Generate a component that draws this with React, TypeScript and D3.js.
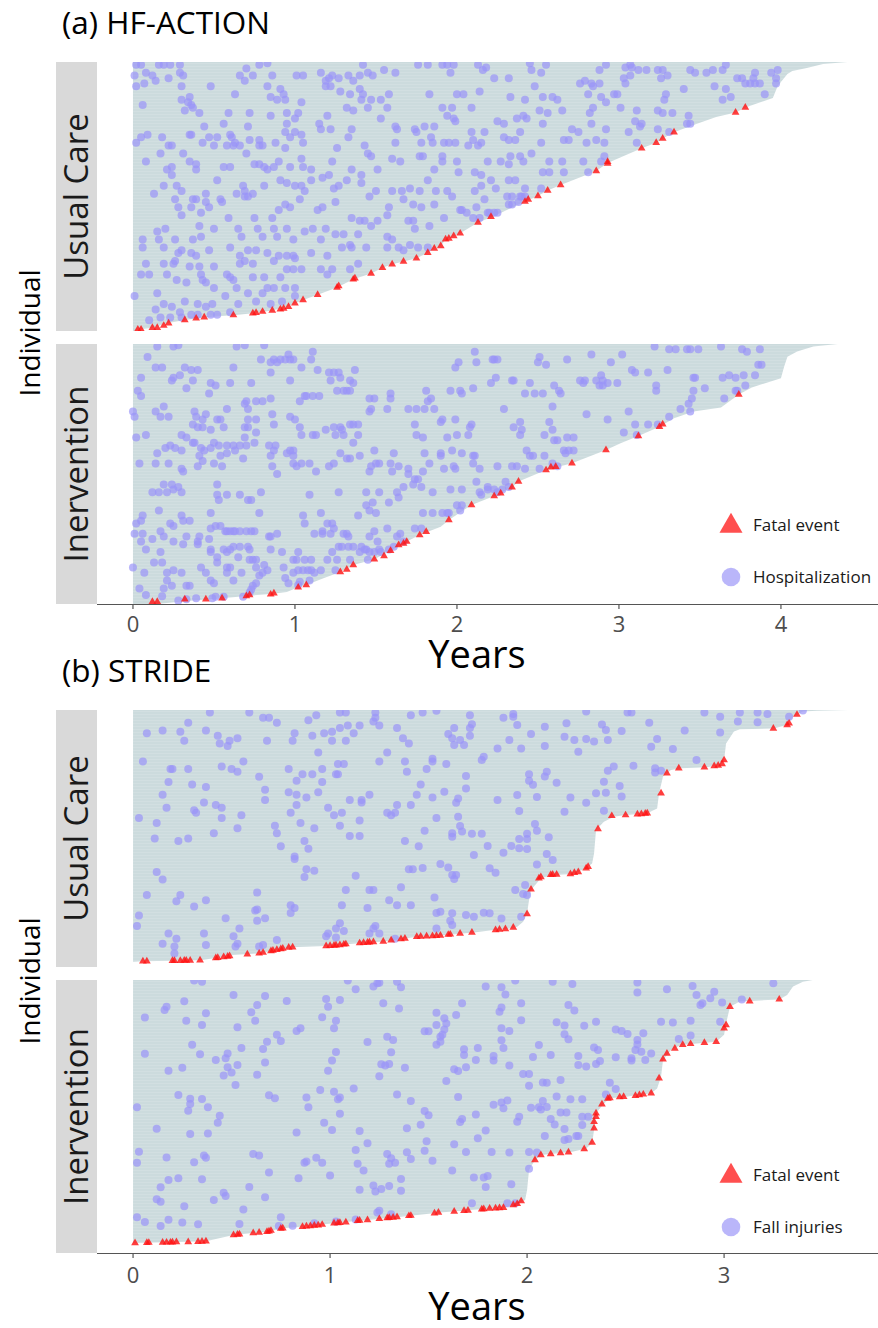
import React from "react";
import * as d3 from "d3";

type Pt = [number, number]; // [years, individual rank in % (0 = shortest follow-up)]

// ---------- HF-ACTION: usual care ----------
const hfUsualFollowUp: Pt[] = [[0.02,0],[0.03,0.6],[0.12,1.2],[0.21,2.9],[0.32,4.1],[0.40,4.7],[0.44,5.1],[0.62,5.9],[0.74,6.6],[0.80,7.2],[0.86,7.6],[0.95,9],[1.00,10.3],[1.05,11.5],[1.14,13.5],[1.26,16.2],[1.36,19.2],[1.47,21.4],[1.54,23.5],[1.60,24.8],[1.67,25.8],[1.75,27],[1.82,29.1],[1.86,30.7],[1.90,31.6],[1.93,34.1],[2.02,36.3],[2.13,40.3],[2.22,42.5],[2.42,48.1],[2.45,48.9],[2.50,50.2],[2.56,52.2],[2.64,54.3],[2.86,59.5],[2.93,62.5],[3.14,67.9],[3.23,70],[3.27,71.6],[3.34,73.9],[3.46,76.6],[3.60,79.6],[3.72,81.2],[3.78,83.1],[3.95,86.6],[3.98,91.1],[4.04,95.5],[4.07,96.7],[4.16,97.8],[4.26,99.3],[4.41,100]];
const hfUsualFatal: Pt[] = [[0.03,0.6],[0.05,0.6],[0.12,1.2],[0.15,1.2],[0.19,2],[0.22,2.9],[0.32,4.1],[0.39,4.7],[0.44,5.1],[0.62,5.9],[0.74,6.6],[0.76,6.8],[0.80,7.2],[0.86,7.6],[0.91,8.1],[0.93,8.4],[0.96,9],[1.00,10.3],[1.05,11.5],[1.14,13.5],[1.26,16.2],[1.27,16.7],[1.36,19.2],[1.37,19.6],[1.47,21.4],[1.54,23.5],[1.60,24.8],[1.67,25.8],[1.75,27],[1.82,29.1],[1.86,30.7],[1.90,31.6],[1.93,34.1],[1.95,34.4],[1.98,35.3],[2.02,36.3],[2.13,40.3],[2.21,42.5],[2.42,48.1],[2.44,48.9],[2.50,50.2],[2.56,52.2],[2.64,54.3],[2.86,59.5],[2.93,62.3],[2.93,62.9],[3.14,67.9],[3.23,70],[3.27,71.6],[3.34,73.9],[3.72,81.2],[3.78,83.1]];
const hfUsualHosp: Pt[] = [
[0.02,99],[0.05,99],[0.16,99],[0.19,99],[0.23,99],[0.29,99],[0.70,97.6],[0.83,99.5],[0.78,99],[1.42,99],[1.76,99],[1.82,99],
[0.01,95],[0.08,96],[0.12,95],[0.14,93],[0.22,94],[0.29,96],[0.31,95],[0.66,95],[0.69,93],[0.74,95],[0.86,95],[1.01,95],[1.05,95],[1.16,96],[1.21,94],[1.23,95],[1.19,93],[1.27,94],[1.33,95],[1.36,93],[1.40,95],[1.45,96],[1.48,95],[1.55,97],[1.62,96],
[0.02,91],[0.07,92],[0.30,91],[0.48,91],[0.83,91],[0.91,90],[1.19,91],[1.22,91],[1.28,89],[1.34,88],[1.42,88],[1.40,90],
[0.30,86],[0.35,87],[0.34,85],[0.36,84],[0.63,88],[0.85,87],[0.89,86],[0.93,88],[0.94,86],[1.04,85],[1.41,86],[1.47,86],[1.53,86],[1.58,88],[1.45,83],[1.36,82],[1.57,83],[1.83,88],
[0.06,84],[0.32,82],[0.37,83],[0.41,81],[0.59,81],[0.72,81],[0.85,80],[0.95,81],[1.00,79],[1.02,81],[1.20,80],[1.32,83],
[0.44,76],[0.56,77],[0.71,76],[0.95,77],[1.15,77],[1.16,75],[1.22,75],[1.35,75],[1.53,79],[1.62,76],[1.63,75],[1.74,75],[1.80,76],[1.75,74],[1.86,76],
[0.02,70],[0.09,73],[0.05,72],[0.18,72],[0.35,73],[0.36,73],[0.43,70],[0.47,72],[0.52,72],[0.60,73],[0.61,72],[0.72,71],[0.78,71],[0.80,69],[0.88,70],[0.94,74],[0.97,72],[1.00,74],[1.04,73],[1.05,70],[1.33,72],[1.62,70],[1.78,70],[1.84,72],[1.85,70],
[0.17,66],[0.22,69],[0.24,69],[0.31,66],[0.50,69],[0.58,69],[0.62,69],[0.63,70],[0.66,69],[0.70,66],[0.78,69],[0.94,68],[1.26,68],[1.43,69],[1.45,66],[1.47,65],[1.77,65],[1.79,65],
[0.08,63],[0.21,60],[0.24,61],[0.35,63],[0.39,62],[0.39,60],[0.56,61],[0.60,61],[0.75,62],[0.78,62],[0.81,61],[0.83,60],[0.87,61],[0.90,63],[0.97,61],[1.04,64],[1.05,61],[1.10,60],[1.23,63],[1.35,60],[1.41,58],[1.51,60],[1.60,64],[1.65,63],[1.86,60],
[0.13,51],[0.19,54],[0.24,58],[0.27,54],[0.30,52],[0.37,49],[0.39,49],[0.45,51],[0.52,56],[0.54,49],[0.64,51],[0.68,54],[0.69,52],[0.71,50],[0.74,51],[0.81,54],[0.91,56],[0.95,55],[1.00,54],[1.04,54],[1.06,52],[1.10,56],[1.17,57],[1.21,58],[1.24,53],[1.27,54],[1.32,56],[1.41,55],[1.46,50],[1.50,52],[1.60,52],[1.66,52],[1.67,49],[1.71,53],[1.77,52],[1.82,56],[1.87,52],
[0.26,49],[0.28,46],[0.30,43],[0.36,46],[0.42,44],[0.45,48],[0.47,46],[0.55,48],[0.59,42],[0.69,50],[0.75,42],[0.86,42],[0.90,45],[0.94,47],[0.97,46],[1.03,49],[1.14,45],[1.17,46],[1.25,48],[1.35,42],[1.40,41],[1.43,41],[1.51,41],[1.57,43],[1.58,46],[1.73,47],[1.78,46],[1.86,47],[1.73,41],
[0.06,34],[0.15,37],[0.16,34],[0.20,38],[0.26,34],[0.37,34],[0.41,39],[0.42,35],[0.50,38],[0.65,38],[0.67,35],[0.77,38],[0.80,35],[0.87,38],[0.89,35],[0.95,38],[0.99,34],[1.06,37],[1.11,38],[1.16,34],[1.19,38],[1.25,36],[1.30,36],[1.34,32],[1.39,36],[1.47,39],[1.57,35],[1.60,34],[1.70,41],[1.74,38],[1.83,39],
[0.06,31],[0.19,31],[0.26,26],[0.28,29],[0.30,30],[0.36,29],[0.39,28],[0.47,30],[0.60,31],[0.66,28],[0.71,30],[0.76,30],[0.83,29],[0.90,28],[0.95,28],[0.99,28],[1.00,27],[1.10,29],[1.20,28],[1.29,31],[1.35,31],[1.44,31],[1.57,31],[1.64,31],[1.67,30],[1.71,32],[1.76,31],[1.82,31],
[0.08,25],[0.19,25],[0.25,25],[0.35,24],[0.41,24],[0.42,21],[0.50,24],[0.58,21],[0.66,25],[0.69,26],[0.74,25],[0.87,26],[0.95,23],[0.99,23],[1.04,23],[1.16,23],[1.23,23],[1.34,23],[1.39,25],[0.05,21],[0.10,21],[0.21,21],
[0.27,19],[0.33,18],[0.43,19],[0.45,18],[0.50,16],[0.60,20],[0.62,19],[0.64,16],[0.74,20],[0.81,20],[0.83,16],[0.87,16],[0.91,20],[0.94,16],[1.00,16],[1.20,21],
[0.01,13],[0.15,14],[0.19,10],[0.24,9],[0.29,7],[0.32,11],[0.40,10],[0.45,9],[0.49,10],[0.14,8],[0.57,13],[0.65,10],[0.71,14],[0.76,11],[0.80,14],[0.85,10],[0.92,11],[1.00,13],[0.10,4],[0.17,5],[0.23,5],[0.30,5],[0.36,6],[0.40,6],[0.48,6],[0.52,6],[0.60,7],
[1.91,99],[1.94,99],[1.98,99],[2.13,99],[2.16,97],[2.18,98],[2.45,99.5],[2.46,97],[2.52,96],[2.55,99],[2.92,99],[2.88,97],[3.04,98],[3.07,99],[3.08,98],[3.12,97],[3.17,97],[3.24,97],[3.27,97],[3.44,97],[3.47,96],[3.54,96],[3.58,97],[3.64,97],[3.66,99],[3.84,96],[3.94,96],[3.98,97],
[1.96,96],[2.23,94],[2.32,94],[2.76,92],[2.79,93],[2.83,92],[2.84,91],[2.88,92],[3.03,94],[3.07,95],[3.04,92],[3.26,94],[3.30,95],[3.40,90],[3.59,91],[3.66,90],[3.73,94],[3.76,94],[3.78,92],[3.81,92],[3.84,92],[3.87,92],[3.83,94],[3.97,94],[3.97,92],[3.90,88],[3.64,86],[3.69,87],
[2.00,88],[2.04,88],[2.14,89],[2.33,87],[2.42,86],[2.48,91],[2.53,87],[2.59,87],[2.62,86],[2.81,88],[2.89,87],[2.97,88],[2.99,88],[2.92,85],[3.28,86],[3.29,88],
[1.91,83],[1.97,83],[2.09,83],[1.94,80],[1.98,79],[1.99,78],[2.25,78],[2.29,77],[2.37,79],[2.41,80],[2.43,79],[2.51,82],[2.53,77],[2.56,81],[2.65,82],[2.84,83],[2.82,81],[2.83,77],[3.01,83],[3.11,82],[3.10,78],[3.14,77],[3.13,76],[3.24,82],[3.27,81],[3.33,81],[3.43,80],[3.42,77],[3.44,77],
[2.09,74],[2.17,74],[2.29,72],[2.32,71],[2.36,71],[2.39,74],[2.52,70],[2.66,71],[2.69,71],[2.71,75],[2.75,74],[2.80,70],[2.86,71],[2.91,70],[2.92,75],[3.06,74],[3.11,70],[3.24,75],[3.31,74],
[1.92,70],[1.95,70],[1.99,70],[2.07,69],[2.10,71],[2.13,69],[2.15,70],[1.91,65],[1.91,63],[2.00,63],[2.19,63],[2.27,63],[2.33,65],[2.32,62],[2.39,65],[2.41,63],[2.46,66],[2.57,63],[2.65,63],[2.78,63],[2.91,65],[2.89,63],
[2.01,59],[2.11,59],[2.15,58],[2.21,56],[2.24,53],[2.32,56],[2.36,56],[2.42,53],[2.39,50],[2.52,53],[2.53,59],[2.57,59],[2.66,59],[2.81,59],
[1.94,52],[1.97,50],[2.11,52],[2.15,54],[2.17,49],[2.12,46],[2.03,45],[2.02,45],[2.06,44],[2.19,44],[2.20,44],[2.23,44],[2.25,44],[2.32,47],[2.31,50],[2.34,50],[2.34,47],[2.38,48],[2.40,50],[2.42,50],[1.92,42],[2.10,42],[2.14,42]];

// ---------- HF-ACTION: intervention ----------
const hfInterFollowUp: Pt[] = [[0.15,0],[0.30,1],[0.55,2.2],[0.70,3.1],[0.85,3.8],[0.95,4.6],[1.02,6.4],[1.07,7.3],[1.18,10],[1.28,12.3],[1.36,15],[1.49,17.2],[1.59,20.5],[1.69,24],[1.77,26.5],[1.82,27.8],[1.90,29.7],[1.95,32.3],[2.09,38.1],[2.23,41.5],[2.34,44.9],[2.38,47.1],[2.55,51.5],[2.71,54.1],[2.92,59.2],[3.01,61.8],[3.12,64.6],[3.25,68.2],[3.34,71.4],[3.46,74],[3.63,75.6],[3.74,80.6],[3.82,83.3],[4.0,86.8],[4.02,91.3],[4.04,95.1],[4.10,97.1],[4.20,99],[4.35,100]];
const hfInterFatal: Pt[] = [[0.12,0.9],[0.15,0.9],[0.32,1.8],[0.45,1.8],[0.55,2.2],[0.70,3.1],[0.72,3.5],[0.85,3.7],[0.87,4.1],[1.02,6.4],[1.07,7.3],[1.28,12.3],[1.32,13.3],[1.36,15],[1.49,17.2],[1.55,18.5],[1.59,20.5],[1.64,22.7],[1.67,23.3],[1.69,24],[1.77,26.5],[1.81,27.8],[1.95,32.3],[2.09,38.1],[2.23,41.5],[2.27,42.6],[2.34,44.9],[2.38,47.1],[2.55,51.5],[2.58,52.6],[2.61,52.8],[2.71,54.1],[2.92,59.2],[3.12,64.6],[3.25,68.2],[3.27,69.1],[3.74,80.6]];
const hfInterHosp: Pt[] = [
[0.15,99],[0.25,99],[0.28,99.5],[0.64,99],[0.69,99.5],[0.81,99.5],[0.09,95],[0.05,87],[0.14,91],[0.18,91],[0.25,87],[0.24,86],[0.29,88],[0.32,91],[0.36,90],[0.40,90],[0.37,86],[0.33,83],[0.48,85],[0.51,84],[0.47,81],[0.62,91],[0.60,85],[0.73,85],[0.79,94],[0.85,93],[0.87,94],[0.89,93],[0.91,94],[0.94,94],[0.96,96],[0.97,94],[0.99,94],[1.04,91],[1.10,94],[1.11,97],[1.14,90],[1.21,89],[1.24,89],[1.22,86],[1.27,89],[1.28,87],[1.34,86],[1.36,85],[1.37,90],[1.30,82],[1.32,82],[1.34,82],[1.26,82],[1.15,80],[1.11,80],[1.06,80],[1.07,80],[1.03,78],[0.97,86],[0.85,89],[0.03,82],[0.05,80],[0.00,74],[0.01,72],[0.14,74],[0.17,72],[0.22,72],[0.19,76],[0.38,74],[0.39,72],[0.43,71],[0.45,73],[0.52,71],[0.54,71],[0.58,75],[0.56,68],[0.43,68],[0.40,68],[0.37,69],[0.48,67],[0.70,78],[0.69,77],[0.71,75],[0.76,78],[0.80,78],[0.85,79],[0.86,73],[0.87,69],[0.71,71],[0.69,68],[0.76,71],[0.76,66],[0.71,68],[0.75,62],[0.69,64],[0.97,72],[1.00,71],[1.03,68],[1.04,65],[1.11,65],[1.13,65],[1.19,67],[1.24,68],[1.28,68],[1.29,67],[1.25,65],[1.30,65],[1.34,69],[1.36,69],[1.39,69],[1.39,65],[1.46,79],[1.49,79],[1.47,75],[1.46,74],[1.57,75],[1.59,79],[1.59,81],[1.70,75],[1.75,75],[1.81,82],[1.82,78],[1.84,79],[1.80,75],[1.86,75],[1.90,70],[1.74,69],[1.75,65],[1.79,64],
[0.02,64],[0.08,65],[0.15,58],[0.20,60],[0.23,61],[0.26,60],[0.30,65],[0.33,64],[0.30,59],[0.37,62],[0.38,62],[0.42,60],[0.41,57],[0.44,59],[0.48,60],[0.50,62],[0.53,61],[0.54,57],[0.58,61],[0.62,61],[0.66,61],[0.70,61],[0.63,59],[0.58,58],[0.68,56],[0.55,53],[0.50,54],[0.43,55],[0.40,53],[0.30,52],[0.31,51],[0.22,54],[0.14,54],[0.04,54],[0.84,61],[0.88,61],[0.87,59],[0.85,57],[0.86,53],[0.89,50],[0.95,58],[0.97,59],[0.99,59],[0.99,57],[0.99,54],[1.04,54],[1.01,53],[1.09,54],[1.13,51],[1.21,53],[1.24,54],[1.28,58],[1.32,56],[1.34,56],[1.36,62],[1.40,57],[1.46,51],[1.47,53],[1.49,59],[1.50,54],[1.52,54],[1.59,54],[1.60,51],[1.61,58],[1.64,53],[1.70,52],[1.70,50],[1.74,48],[1.76,48],[1.79,51],[1.80,58],[1.83,54],[1.90,57],
[0.19,46],[0.24,46],[0.25,44],[0.28,45],[0.12,43],[0.16,43],[0.21,43],[0.30,43],[0.52,46],[0.52,42],[0.53,40],[0.58,42],[0.66,42],[0.71,40],[0.73,40],[0.79,43],[1.09,42],[1.27,43],[1.44,43],[1.52,43],[1.44,38],[1.46,36],[1.48,39],[1.50,35],[1.58,39],[1.63,43],[1.64,41],[1.67,45],[1.73,46],[1.78,45],[1.85,43],[1.79,35],[1.85,35],[1.39,34],[1.16,35],[0.78,35],[1.05,34],[1.06,31],[0.16,36],[0.23,31],[0.25,30],[0.30,34],[0.31,32],[0.35,32],[0.06,34],[0.05,32],[0.02,31],[0.01,27],[0.06,27],[0.17,28],[0.48,35],[0.48,29],[0.51,30],[0.54,30],[0.57,28],[0.58,28],[0.60,28],[0.62,28],[0.63,28],[0.66,28],[0.70,28],[0.73,28],[0.75,28],[0.84,26],[0.85,26],[0.89,27],[1.12,27],[1.17,28],[1.20,31],[1.23,31],[1.24,29],[1.22,27],[1.17,27],[1.30,27],[1.32,27],[1.33,26],[1.46,26],[1.49,28],[1.57,29],[1.51,24],[1.65,27],[1.74,29],[1.78,29],
[1.27,22],[1.29,22],[1.33,22],[1.36,22],[1.41,22],[1.44,21],[1.46,20],[1.52,21],[1.61,22],[1.63,26],[1.67,24],[1.58,21],
[0.05,24],[0.08,21],[0.12,25],[0.17,20],[0.19,26],[0.25,24],[0.31,23],[0.33,26],[0.40,24],[0.41,26],[0.40,23],[0.47,25],[0.48,21],[0.52,18],[0.52,16],[0.48,20],[0.56,21],[0.58,20],[0.60,21],[0.62,22],[0.66,22],[0.65,18],[0.71,22],[0.72,21],[0.72,17],[0.74,17],[0.76,17],[0.76,14],[0.81,15],[0.83,13],[0.85,21],[0.92,20],[0.93,14],[0.99,17],[1.02,20],[1.01,17],[1.06,17],[1.10,17],[1.08,13],[1.10,13],[1.16,13],[1.20,17],[1.23,20],[1.25,13],[1.26,17],[1.34,17],[1.40,20],[1.43,21],[1.45,17],[1.49,20],[1.53,20],
[0.00,14],[0.07,12],[0.13,16],[0.18,16],[0.21,12],[0.25,13],[0.21,9],[0.19,6],[0.24,7],[0.30,12],[0.33,7],[0.35,7],[0.42,14],[0.45,12],[0.48,9],[0.50,8],[0.58,14],[0.60,14],[0.58,12],[0.62,9],[0.67,12],[0.74,7],[0.76,8],[0.78,11],[0.80,12],[0.94,10],[0.96,8],[0.99,12],[1.02,13],[1.05,13],[1.09,9],[1.12,12],
[0.04,6],[0.08,3.5],[0.18,3],[0.28,1.3],[0.33,1.8],[0.39,2.2],[0.49,2.2],[0.51,2.8],[0.56,2.8],[0.68,2.8],[0.72,4.4],[0.73,5.6],[1.02,7.3],[1.03,8.6],
[2.11,97],[2.12,93],[1.99,91],[2.01,93],[2.22,94],[2.23,94],[2.25,94],[2.51,95],[2.50,93],[2.55,92],[2.68,94],[2.83,96],[2.95,93],[3.02,96],[3.22,99],[3.31,98],[3.35,98],[3.42,98],[3.44,98],[3.49,98],[3.63,99],[3.76,98],[3.79,97],[3.87,98],[3.86,92],[3.88,92],[3.84,88],[3.77,88],[3.72,87],[3.68,88],[3.64,87],[3.46,87],[3.47,87],[3.30,90],[3.18,89],[3.08,90],[3.10,89],[3.23,84],[3.23,82],[3.53,83],[3.46,82],[3.45,79],[3.43,77],[3.38,75],[3.44,74],[3.31,72],[3.65,79],[3.72,82],[3.73,82],[3.78,84],
[2.21,85],[2.24,87],[2.34,86],[2.35,86],[2.45,85],[2.60,84],[2.63,82],[2.64,81],[2.76,86],[2.78,85],[2.79,86],[2.86,86],[2.89,88],[2.90,86],[2.93,85],[2.88,84],[2.90,84],[2.99,85],[1.96,82],[2.02,82],[2.03,81],[2.10,83],[2.29,75],[2.42,81],[2.48,81],[2.53,81],[2.59,76],[2.80,73],[2.93,71],[3.06,74],[3.10,69],[3.03,66],[3.11,65],[3.18,69],[3.24,69],
[1.91,71],[1.99,71],[2.09,69],[2.08,68],[2.07,65],[2.00,65],[1.94,64],[2.35,68],[2.39,70],[2.40,67],[2.39,65],[2.54,65],[2.57,70],[2.59,67],[2.60,63],[2.62,63],[2.68,64],[2.72,64],[2.43,59],[2.45,57],[2.47,57],[2.54,57],[2.66,59],[2.67,58],[2.69,59],[2.72,59],[2.59,54],[2.62,53],
[1.90,58],[1.97,59],[2.03,58],[2.10,57],[2.11,57],[2.10,54],[2.14,52],[1.98,53],[1.92,52],[1.99,52],[2.25,53],[2.34,53],[2.37,53],[2.42,52],[2.51,52],
[1.96,44],[2.03,44],[2.12,47],[2.14,43],[2.15,42],[2.19,45],[2.19,44],[2.23,44],[2.30,47],[2.32,45],[2.28,44],[2.25,43],
[2.00,38],[2.03,38],[2.02,36],[1.94,35],[1.91,35],[1.95,35]];

// ---------- STRIDE: usual care ----------
const strideUsualFollowUp: Pt[] = [[0,0],[0,2.0],[0.05,2.2],[0.20,2.4],[0.34,2.6],[0.41,3.4],[0.51,4.7],[0.64,5.3],[0.80,7.7],[0.98,8.2],[1.08,8.9],[1.27,9.9],[1.44,11.8],[1.56,12.3],[1.73,13.4],[1.83,14.4],[1.91,15],[1.95,15.7],[1.98,17.6],[2.00,20.9],[2.01,26.1],[2.02,30],[2.07,34.5],[2.13,35.8],[2.23,36.2],[2.30,38.4],[2.33,40.3],[2.34,44.2],[2.35,53.3],[2.39,56.5],[2.44,58.5],[2.50,59.1],[2.61,59.8],[2.66,61.7],[2.67,67.6],[2.69,74.1],[2.73,76.7],[2.78,77.3],[2.91,77.7],[2.98,78.6],[3.00,80.5],[3.01,87],[3.05,91.6],[3.08,92.5],[3.25,92.8],[3.32,94.2],[3.35,97.4],[3.40,99.4],[3.47,99.7],[3.63,100]];
const strideUsualFatal: Pt[] = [[0.05,2.2],[0.07,2.2],[0.20,2.4],[0.21,2.4],[0.24,2.4],[0.26,2.5],[0.27,2.5],[0.29,2.5],[0.34,2.6],[0.42,3.5],[0.43,3.6],[0.46,3.9],[0.48,4.1],[0.49,4.3],[0.58,5],[0.64,5.3],[0.66,5.6],[0.70,6.2],[0.71,6.4],[0.73,6.7],[0.75,7],[0.76,7.2],[0.79,7.6],[0.81,7.7],[0.98,8.2],[1.00,8.3],[1.02,8.4],[1.03,8.5],[1.05,8.6],[1.07,8.8],[1.08,8.9],[1.15,9.3],[1.17,9.4],[1.19,9.5],[1.20,9.6],[1.22,9.7],[1.27,9.9],[1.31,10.4],[1.36,10.9],[1.38,11.1],[1.44,11.8],[1.46,11.9],[1.49,12],[1.52,12.1],[1.54,12.2],[1.56,12.3],[1.60,12.6],[1.61,12.7],[1.66,13],[1.72,13.4],[1.84,14.4],[1.86,14.6],[1.89,14.8],[1.93,15.4],[2.00,20.6],[2.02,30.2],[2.06,34.5],[2.07,35],[2.12,35.9],[2.13,36],[2.15,36],[2.22,36.2],[2.24,36.7],[2.26,37],[2.30,38.4],[2.31,39],[2.36,53.7],[2.43,58.8],[2.50,59.1],[2.56,59.4],[2.58,59.5],[2.60,59.7],[2.61,59.8],[2.68,67.6],[2.71,75.4],[2.77,77.3],[2.90,77.7],[2.95,78.2],[2.97,78.4],[2.99,79],[3.00,80.5],[3.25,92.8],[3.32,94.2],[3.33,94.8],[3.37,98.2]];
const strideUsualFalls: Pt[] = [
[0.39,99],[0.59,99],[0.66,97],[0.69,97],[0.73,95],[0.89,96],[0.93,98],[1.05,99],[1.08,99],[1.23,99],[1.23,97],[1.22,95.5],[1.25,94],[1.41,98],[1.47,99],[1.54,99.7],
[0.07,91],[0.15,92],[0.24,91.5],[0.26,88],[0.28,95],[0.37,92],[0.43,90],[0.44,87],[0.49,88],[0.48,86],[0.53,89],[0.68,88],[0.82,91],[0.81,88],[0.91,90],[0.97,91],[1.01,91.5],[1.01,88],[1.05,93],[1.09,94],[1.08,88],[1.12,91],[1.15,94],[1.34,93],[1.37,89],[1.40,87],
[0.05,80],[0.19,77],[0.20,77],[0.28,77],[0.18,72],[0.30,71],[0.37,70],[0.45,78],[0.50,77],[0.53,76],[0.56,80],[0.64,74],[0.79,77],[0.83,72.5],[0.86,75],[0.91,75],[0.96,77],[0.96,72],[1.03,75],[1.04,75],[1.04,79],[1.07,79],[1.25,80],[1.29,83.5],[0.94,83.5],[1.38,80],[1.39,76],[1.49,77],[1.52,81],[1.52,80],
[0.15,67],[0.17,62],[0.03,58],[0.12,56],[0.11,50],[0.23,49],[0.28,50],[0.31,61],[0.32,60],[0.36,64],[0.42,63],[0.45,62],[0.45,58],[0.41,52],[0.53,54],[0.55,59],[0.67,69],[0.67,65],[0.72,55],[0.73,52],[0.75,47],[0.79,68],[0.83,67],[0.83,63],[0.80,60],[0.88,66],[0.94,68],[0.99,62],[1.02,59],[1.06,60],[1.05,55],[1.10,65],[1.16,65],[1.16,64],[1.20,67],[1.15,57],[1.15,51],[1.10,51],[0.92,54],[0.85,56],[0.87,49],[0.89,46],[0.82,43],[0.82,42],[1.29,60],[1.31,59],[1.33,60],[1.34,63],[1.41,63],[1.44,67],[1.46,71],[1.52,66],[1.54,58],[1.48,53],[1.38,49],[1.45,47],[1.40,38],[1.42,38],[1.47,38.5],
[0.88,38],[0.92,37.5],[0.87,35],[1.13,35.5],[0.12,37],[0.15,34],[0.07,28],[0.24,28],[0.22,25.6],[0.31,23.5],[0.37,26],[0.63,29],[0.62,22],[0.63,22.4],[0.63,18],[0.67,19],[0.80,24],[0.82,23],[0.80,21],[1.08,30],[1.06,24],[1.20,30],[1.22,30],[1.19,23],[1.30,26],[1.34,24],[1.36,31],[1.41,24],[1.53,27],[1.54,21],
[0.03,20],[0.02,16],[0.18,13],[0.15,9],[0.21,8],[0.22,11],[0.21,5.3],[0.36,13],[0.37,8.6],[0.47,19],[0.51,12],[0.54,15],[0.53,9],[0.52,8],[0.64,8],[0.66,8.6],[0.73,10.5],[1.05,17],[1.03,15],[0.99,13],[1.07,14],[1.03,11.5],[0.98,12],[1.22,15],[1.23,16],[1.20,13],[1.25,13],[1.33,11],[1.54,15],
[1.71,98],[1.88,97],[1.93,98.4],[1.93,97.4],[1.63,93],[1.72,94.5],[1.71,93],[1.71,90],[1.60,90.7],[1.62,89],[1.63,86.4],[1.66,88.3],[1.68,86.4],[1.85,85],[1.91,88.3],[1.95,94.2],[1.97,85],[2.02,90.7],[2.09,93.5],[2.09,86],[2.19,89.6],[2.20,94.8],[2.24,88.3],[2.26,83.8],[2.30,88.7],[2.34,87.7],[2.38,94.4],[2.40,92.2],[2.41,88.3],[2.48,91.8],[2.51,99],[2.53,99],[2.30,99.4],[2.62,95],[2.66,88.7],[2.63,85.7],[2.74,84.8],[2.80,92],[2.90,99],[2.98,97.4],[2.98,91.2],[3.08,99],[3.07,95.5],[3.17,99],[3.17,95.2],[3.22,98.4],[3.40,99.8],[3.33,97.4],
[1.77,80.5],[1.78,81.8],[1.59,79],[1.69,74.3],[1.69,69.5],[1.58,68.2],[1.65,65.6],[1.64,63.9],[1.65,58.5],[1.66,54.9],[1.67,52.7],[1.62,52],[1.62,50.7],[1.72,51.8],[1.77,51.8],[1.80,47.1],[1.73,43.6],[1.56,40.1],[1.60,38.7],[1.62,35.8],[1.63,34.2],[1.64,35.8],[1.69,20.2],[1.73,19.6],[1.62,20.9],[1.56,21.5],[1.62,16.3],[1.61,18],[1.78,21.1],[1.81,20.9],[1.87,18.9],[1.81,38.4],[1.84,36.7],[1.85,65],[1.88,44.5],[1.92,47.1],[1.96,46.2],[1.96,49.8],[2.00,49.8],[2.00,51.8],[2.00,45.9],[1.94,30],[1.98,28.4],[2.00,28],[1.99,31.9],[1.97,19.6],[1.95,66.9],[1.96,60.7],[2.04,55.6],[2.05,53],[2.01,75],[2.01,72.5],[2.03,70.9],[2.05,66.1],[2.09,74.1],[2.10,76],[2.15,71.7],[2.11,50.5],[2.10,44],[2.13,41.6],[2.05,39.9],[2.22,66],[2.19,60.4],[2.30,63.9],[2.35,67.6],[2.40,67.8],[2.39,72.1],[2.39,60.8],[2.41,76.4],[2.44,78],[2.48,66.3],[2.47,70.4],[2.54,78.3],[2.65,77.3],[2.65,75.7],[2.68,76.4],[2.86,80.5]];

// ---------- STRIDE: intervention ----------
const strideInterFollowUp: Pt[] = [[0,0],[0,3.6],[0.01,3.7],[0.37,4.3],[0.51,6.6],[0.68,7.8],[0.75,9],[0.85,9.6],[1.02,10.9],[1.19,12.1],[1.36,13.3],[1.56,14.8],[1.73,15.8],[1.89,16.7],[1.96,18.2],[1.99,19.4],[2.00,23.1],[2.01,30.4],[2.04,34.1],[2.07,35.9],[2.23,37.1],[2.30,38.3],[2.33,40.2],[2.34,45.1],[2.35,51.2],[2.39,54.8],[2.42,56.7],[2.51,57.3],[2.63,58.5],[2.66,60.3],[2.68,64.6],[2.69,70.7],[2.73,74.4],[2.78,76.2],[2.96,77.4],[3.00,79.9],[3.01,84.1],[3.03,90.2],[3.08,92.1],[3.28,92.9],[3.32,94.5],[3.35,97.6],[3.40,99.4],[3.45,100]];
const strideInterFatal: Pt[] = [[0.01,3.7],[0.07,3.75],[0.08,3.8],[0.15,3.85],[0.17,3.9],[0.19,3.9],[0.20,3.95],[0.22,4],[0.28,4.05],[0.33,4.1],[0.35,4.2],[0.37,4.3],[0.51,6.6],[0.53,6.8],[0.54,6.9],[0.61,7.3],[0.64,7.5],[0.68,7.8],[0.69,8],[0.70,8.2],[0.75,9],[0.76,9.1],[0.86,9.6],[0.88,9.8],[0.90,9.9],[0.92,10.1],[0.94,10.2],[0.96,10.4],[1.02,10.9],[1.04,11],[1.05,11.1],[1.08,11.3],[1.14,11.8],[1.15,11.9],[1.19,12.1],[1.25,12.5],[1.29,12.8],[1.30,12.9],[1.32,13],[1.34,13.2],[1.40,13.6],[1.41,13.7],[1.53,14.6],[1.55,14.8],[1.63,15.2],[1.68,15.5],[1.70,15.6],[1.77,16],[1.78,16.1],[1.81,16.3],[1.84,16.4],[1.86,16.5],[1.88,16.6],[1.93,17.6],[1.95,18],[1.97,19],[2.04,34.1],[2.07,35.9],[2.12,36.3],[2.17,36.6],[2.21,36.9],[2.29,38.1],[2.33,40.5],[2.34,45.7],[2.34,48.1],[2.35,49.9],[2.35,51.2],[2.38,54.5],[2.41,56.6],[2.42,56.8],[2.47,57.1],[2.49,57.2],[2.55,57.6],[2.57,57.9],[2.59,58.1],[2.63,58.5],[2.67,64],[2.69,71],[2.71,73.1],[2.75,74.9],[2.79,76.3],[2.83,76.6],[2.90,77],[2.96,77.4],[3.00,82.3],[3.01,83.5],[3.03,90.2],[3.13,92.2],[3.28,92.9]];
const strideInterFalls: Pt[] = [
[0.31,99.8],[0.35,99.4],[1.09,99.8],[1.13,96.6],[1.22,97.6],[1.24,98.8],[1.25,99],[1.34,99.4],[1.36,97.3],
[0.51,94.5],[0.67,94.1],[0.26,92.2],[0.78,92.3],[0.98,93],[0.99,90.2],[1.05,92.7],[0.16,89],[0.17,90.2],[0.06,86.3],[0.37,87.8],[0.27,85.1],[0.35,83.5],[0.53,82.7],[0.60,88.2],[0.63,90.8],[0.62,85.1],[0.96,86.4],[1.03,85.1],[1.02,82.3],[1.27,91.5],[1.35,89.6],[0.83,81.3],[0.85,82.3],[0.73,79.9],[0.75,77.7],[0.68,77.4],[0.66,74.7],[0.55,75.1],[0.67,69.8],[0.63,65.3],[0.30,76.3],[0.34,72.8],[0.42,70.7],[0.48,73.1],[0.47,71.3],[0.48,68],[0.50,66.1],[0.46,65],[0.53,68.9],[0.52,61.5],[1.19,77.3],[1.29,79.2],[1.32,78],[1.31,73.5],[1.03,73.6],[1.01,70.5],[0.99,66.8],[1.26,69.1],[1.28,68.7],[1.30,69.2],[1.25,64.7],[1.38,67.9],[1.54,88],[1.54,83.5],[1.48,81.2],[1.50,81.2],[1.56,79.2],[1.54,76.3],
[0.06,73],[0.18,66.8],[0.25,67.9],[0.23,57.9],[0.29,56.5],[0.29,54.6],[0.28,52.1],[0.35,56.4],[0.38,53.4],[0.44,50.3],[0.43,47.7],[0.29,43.6],[0.38,43.8],[0.12,45.5],[0.02,53.4],[0.69,57.8],[0.72,56.7],[0.88,57],[0.89,53.4],[0.95,59.7],[1.02,59.1],[1.04,56.3],[1.05,57],[1.12,60.3],[1.05,51],[0.97,47.7],[1.01,45.1],[0.83,44.1],[1.15,44.7],[1.19,40.2],[1.34,58.1],[1.41,55.7],[1.48,52],[1.50,50.5],[1.39,45.7],[1.46,47],[1.49,40.9],[1.48,37.5],[1.39,36.9],[1.41,34.4],[1.52,33.8],
[0.03,37.1],[0.02,33.1],[0.17,35],[0.31,33.2],[0.36,35.7],[0.37,34.9],[0.61,36.3],[0.64,35.7],[0.69,29.5],[0.87,33.1],[0.88,33.5],[0.93,34.9],[0.96,33.1],[1.00,28.4],[0.84,27.4],[1.13,37.7],[1.14,32.7],[1.17,30.2],[1.29,36.3],[1.31,34.7],[1.30,32.7],[1.33,33.1],[1.36,27.1],[1.22,24.7],[1.23,22.5],[1.26,23.4],[1.30,24.5],[1.36,22.8],[1.15,23.2],
[0.18,26.7],[0.23,27.4],[0.35,27],[0.14,24.1],[0.12,19.7],[0.14,18.8],[0.46,22.1],[0.47,20.9],[0.41,19.4],[0.26,17.1],[0.59,24.2],[0.67,20.4],[0.56,15.9],[1.25,15.5],[1.24,14.8],[1.31,14.2],
[0.02,13.1],[0.06,11.4],[0.14,9.9],[0.18,12.2],[0.25,11.2],[0.33,10.5],[0.54,10.6],[0.75,13.1],[0.74,9.9],[0.81,10],[0.92,10.9],[1.03,11.5],[1.13,12.3],
[1.79,97.6],[1.87,97.3],[1.89,94.7],[1.94,99.8],[2.13,99.4],[2.23,98.5],[2.56,99.1],[2.56,95.4],[2.71,96.6],[2.84,97.8],[2.86,94.5],[2.93,93.3],[2.95,95.7],[2.89,91.5],[2.88,90.8],[2.99,91.8],[3.09,92.9],[3.25,98.8],
[1.67,91.5],[1.64,87.2],[1.58,86],[1.59,84.1],[1.58,81.9],[1.57,79.9],[1.56,77.4],[1.87,89.9],[1.86,88.4],[1.97,91.5],[1.97,85.3],[2.21,90.8],[2.24,88.8],[2.15,84.5],[2.19,83.3],[2.29,83.2],[2.35,84.7],[2.45,81.9],[2.48,81.3],[2.51,80.2],[2.59,80.5],[2.56,78],[2.55,74.4],[2.56,76.4],[2.58,73.7],[2.63,73.1],[2.60,70.7],[2.53,71.3],[2.53,70.5],[2.45,71.7],[2.68,84.7],[2.74,84.4],[2.83,85.1],[2.77,78.4],[2.83,79.7],[2.98,84.7],[1.87,82.3],[1.91,81.3],[1.87,77.9],[1.88,75.1],[1.75,75.1],[1.74,70.7],[1.83,72.2],[1.83,70.5],[1.68,72.5],[1.69,68],[1.68,74.6],[1.91,68.7],[2.06,76.2],[2.03,71.8],[2.12,72.5],[2.08,62.5],[2.10,62.4],[2.17,63.4],[2.26,72.2],[2.30,68.3],[2.26,68.9],[2.35,69.2],[2.37,70.3],[2.34,75.3],[2.36,74.4],[2.19,80.1],[2.21,78.3],
[1.63,67.3],[1.65,66.7],[1.59,63],[1.65,57.1],[1.74,50.7],[1.79,44.9],[1.75,42],[1.83,54.3],[1.87,55.1],[1.90,55.9],[1.88,53],[1.98,65.6],[2.01,65.6],[2.01,61.3],[2.08,55.7],[2.06,53.4],[2.07,52.6],[2.02,53.2],[2.10,53.5],[2.15,57.3],[2.17,51.5],[2.20,51.5],[2.22,56.3],[2.28,56.3],[2.31,49.9],[2.28,46.9],[2.19,45.4],[2.19,41.4],[2.21,41.8],[2.25,42.9],[2.26,42.9],[2.09,42.9],[2.14,47.1],[2.12,49.1],[1.96,49.9],[1.95,48.1],[1.67,49.1],[1.66,48],[1.63,39.8],[1.69,37],[1.82,37],[1.91,36.8],[2.01,37],[2.05,36.8],[1.62,30.2],[1.73,27.7],[1.78,27.7],[1.80,28.2],[1.79,24.2],[1.92,25.2],[2.01,30.9],[1.72,18.2],[1.90,18.2],[1.94,18.2],[2.42,62.4],[2.45,60.1],[2.40,58.1],[2.28,49.9]];

const hfYearTicks = [0, 1, 2, 3, 4];
const strideYearTicks = [0, 1, 2, 3];
const armLabels = ["Usual Care", "Inervention"];

// ---------- layout & style ----------
const W = 878;
const H = 1328;
const FONT = "'Open Sans', 'Noto Sans', 'DejaVu Sans', sans-serif";
const PLOT_LEFT = 97;
const PLOT_RIGHT = 878;
const STRIP_LEFT = 56;
const AREA_FILL = "#ccdbdd";
const LINE_FILL = "#d4e1e3";
const DOT_FILL = "#9a94f8";
const TRI_FILL = "#ff1414";
const AXIS_COLOR = "#555555";

interface FacetSpec {
  key: string;
  label: string;
  top: number;
  bottom: number;
  followUp: Pt[];
  fatal: Pt[];
  events: Pt[];
}

interface PanelSpec {
  key: string;
  title: string;
  titleY: number;
  xDomain: [number, number];
  xRangeEnd: number;
  ticks: number[];
  axisY: number;
  tickLabelY: number;
  xLabelY: number;
  yLabelY: number;
  legendY: number;
  eventName: string;
  facets: FacetSpec[];
}

const panels: PanelSpec[] = [
  {
    key: "hf",
    title: "(a) HF-ACTION",
    titleY: 34,
    xDomain: [-0.222, 4.63],
    xRangeEnd: 883,
    ticks: hfYearTicks,
    axisY: 604.5,
    tickLabelY: 632,
    xLabelY: 668,
    yLabelY: 333,
    legendY: 525,
    eventName: "Hospitalization",
    facets: [
      { key: "hf-uc", label: armLabels[0], top: 62, bottom: 331, followUp: hfUsualFollowUp, fatal: hfUsualFatal, events: hfUsualHosp },
      { key: "hf-in", label: armLabels[1], top: 344, bottom: 604, followUp: hfInterFollowUp, fatal: hfInterFatal, events: hfInterHosp },
    ],
  },
  {
    key: "stride",
    title: "(b) STRIDE",
    titleY: 682,
    xDomain: [-0.183, 3.8],
    xRangeEnd: 881.7,
    ticks: strideYearTicks,
    axisY: 1253.5,
    tickLabelY: 1283,
    xLabelY: 1320,
    yLabelY: 981,
    legendY: 1175,
    eventName: "Fall injuries",
    facets: [
      { key: "st-uc", label: armLabels[0], top: 710, bottom: 967, followUp: strideUsualFollowUp, fatal: strideUsualFatal, events: strideUsualFalls },
      { key: "st-in", label: armLabels[1], top: 980, bottom: 1253, followUp: strideInterFollowUp, fatal: strideInterFatal, events: strideInterFalls },
    ],
  },
];

const triSmall = d3.symbol().type(d3.symbolTriangle).size(26)() as string;
const triLegend = d3.symbol().type(d3.symbolTriangle).size(230)() as string;

function Facet({ spec, x }: { spec: FacetSpec; x: d3.ScaleLinear<number, number> }) {
  const y = d3.scaleLinear().domain([0, 100]).range([spec.bottom, spec.top]);
  const area = d3
    .area<Pt>()
    .x0(x(0))
    .x1((d) => x(d[0]))
    .y((d) => y(d[1]));
  const clipId = `clip-${spec.key}`;
  const cy = (spec.top + spec.bottom) / 2;
  return (
    <g>
      <defs>
        <clipPath id={clipId}>
          <rect x={PLOT_LEFT} y={spec.top} width={PLOT_RIGHT - PLOT_LEFT} height={spec.bottom - spec.top} />
        </clipPath>
      </defs>
      <rect x={STRIP_LEFT} y={spec.top} width={PLOT_LEFT - STRIP_LEFT} height={spec.bottom - spec.top} fill="#d9d9d9" />
      <text
        transform={`translate(${(STRIP_LEFT + PLOT_LEFT) / 2},${cy}) rotate(-90)`}
        y={11.5}
        textAnchor="middle"
        fontFamily={FONT}
        fontSize={33}
        fill="#1a1a1a"
      >
        {spec.label}
      </text>
      <g clipPath={`url(#${clipId})`}>
        <path d={area(spec.followUp) || ""} fill="url(#followup-lines)" />
        {spec.events.map((d, i) => (
          <circle key={i} cx={x(d[0])} cy={y(d[1])} r={4} fill={DOT_FILL} fillOpacity={0.7} />
        ))}
        {spec.fatal.map((d, i) => (
          <path key={i} d={triSmall} transform={`translate(${x(d[0])},${y(d[1])})`} fill={TRI_FILL} fillOpacity={0.82} />
        ))}
      </g>
    </g>
  );
}

function Panel({ spec }: { spec: PanelSpec }) {
  const x = d3.scaleLinear().domain(spec.xDomain).range([PLOT_LEFT, spec.xRangeEnd]);
  const lx = 731;
  return (
    <g>
      <text x={62} y={spec.titleY} fontFamily={FONT} fontSize={31.5} fill="#000">
        {spec.title}
      </text>
      <text
        transform={`translate(40,${spec.yLabelY}) rotate(-90)`}
        textAnchor="middle"
        fontFamily={FONT}
        fontSize={28}
        fill="#000"
      >
        Individual
      </text>
      {spec.facets.map((f) => (
        <Facet key={f.key} spec={f} x={x} />
      ))}
      <line x1={PLOT_LEFT} x2={PLOT_RIGHT} y1={spec.axisY} y2={spec.axisY} stroke={AXIS_COLOR} strokeWidth={1.2} />
      {spec.ticks.map((t) => (
        <g key={t}>
          <line x1={x(t)} x2={x(t)} y1={spec.axisY} y2={spec.axisY + 4.5} stroke={AXIS_COLOR} strokeWidth={1.2} />
          <text x={x(t)} y={spec.tickLabelY} textAnchor="middle" fontFamily={FONT} fontSize={22} fill="#4d4d4d">
            {t}
          </text>
        </g>
      ))}
      <text x={477} y={spec.xLabelY} textAnchor="middle" fontFamily={FONT} fontSize={38} fill="#000">
        Years
      </text>
      <path d={triLegend} transform={`translate(${lx},${spec.legendY + 1})`} fill={TRI_FILL} fillOpacity={0.75} />
      <text x={753} y={spec.legendY + 6} fontFamily={FONT} fontSize={17} fill="#1a1a1a">
        Fatal event
      </text>
      <circle cx={lx} cy={spec.legendY + 52} r={9.3} fill={DOT_FILL} fillOpacity={0.68} />
      <text x={753} y={spec.legendY + 58} fontFamily={FONT} fontSize={17} fill="#1a1a1a">
        {spec.eventName}
      </text>
    </g>
  );
}

export default function App() {
  return (
    <div style={{ position: "absolute", left: 0, top: 0, width: W, height: H, background: "#fff" }}>
      <svg width={W} height={H} viewBox={`0 0 ${W} ${H}`} style={{ display: "block" }}>
        <defs>
          <pattern id="followup-lines" patternUnits="userSpaceOnUse" width={10} height={3}>
            <rect width={10} height={3} fill={AREA_FILL} />
            <rect width={10} height={0.8} fill={LINE_FILL} />
          </pattern>
        </defs>
        <rect width={W} height={H} fill="#fff" />
        {panels.map((p) => (
          <Panel key={p.key} spec={p} />
        ))}
      </svg>
    </div>
  );
}
